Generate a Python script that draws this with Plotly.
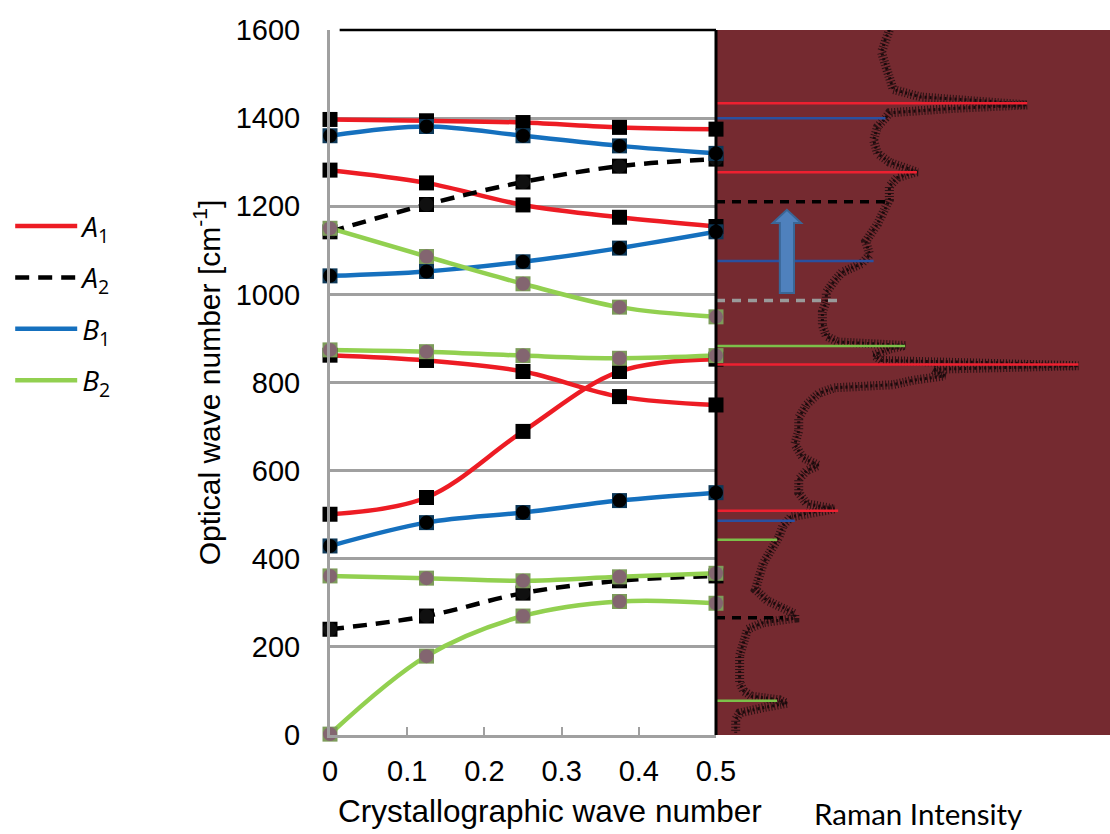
import plotly.graph_objects as go

# ---------------- data ----------------
q = [0, 0.125, 0.25, 0.375, 0.5]

a1_1 = [1397, 1394, 1390, 1379, 1375]
a1_2 = [1282, 1253, 1203, 1175, 1154]
a1_3 = [862, 850, 825, 768, 749]
a1_4 = [501, 539, 689, 825, 853]

a2_1 = [1142, 1204, 1255, 1291, 1307]
a2_2 = [240, 270, 322, 350, 361]

b1_1 = [1360, 1381, 1360, 1337, 1320]
b1_2 = [1042, 1052, 1074, 1105, 1142]
b1_3 = [429, 482, 505, 532, 550]

b2_1 = [1150, 1086, 1024, 971, 949]
b2_2 = [874, 870, 861, 855, 861]
b2_3 = [361, 356, 350, 359, 367]
b2_4 = [2, 179, 270, 303, 299]

raman_wn = [1600, 1580, 1550, 1520, 1490, 1465, 1448, 1438, 1430, 1422, 1412, 1400,
            1380, 1350, 1320, 1300, 1288, 1278, 1265, 1245, 1215, 1195, 1160, 1120,
            1090, 1070, 1050, 1030, 1005, 985, 960, 930, 905, 892, 884, 876, 862, 850,
            843, 838, 830, 815, 805, 795, 788, 775, 750, 720, 690, 660, 630, 612, 600,
            580, 550, 525, 513, 505, 495, 475, 450, 420, 390, 360, 330, 305, 290, 275,
            265, 255, 240, 210, 180, 150, 120, 100, 88, 80, 72, 62, 50, 35, 20, 5]
raman_int = [44, 43, 42, 43, 44, 45, 52, 70, 79, 60, 44, 43,
             41, 40, 41, 44, 48, 51, 46, 44, 44, 43, 41, 38,
             39, 37, 32, 30, 28, 28, 27, 27, 28, 31, 48, 44, 40, 42,
             80, 92, 55, 58, 50, 45, 30, 26, 23, 21, 21, 20, 22, 26, 23,
             21, 21, 23, 30, 24, 19, 17, 16, 14, 12, 11, 10, 13, 17, 20,
             20, 12, 8, 7, 6, 6, 6, 7, 9, 16, 18, 12, 6, 5, 5, 5]

# Raman peak assignments (wave number, bar length in intensity units, mode)
peak_wn = [1434, 1400, 1277, 1210, 1076, 986, 883, 841, 509, 486, 443, 266, 78]
peak_len = [79, 43, 51, 43, 40, 31, 48, 92, 31, 20, 15.5, 17, 15.5]
peak_mode = ["A1", "B1", "A1", "A2", "B1", "X", "B2", "A1", "A1", "B1", "B2", "A2", "B2"]

arrow_x = 18.0
arrow_from = 1003
arrow_head = 1162
arrow_to = 1192

legend_names = ["<i>A</i><sub>1</sub>", "<i>A</i><sub>2</sub>",
                "<i>B</i><sub>1</sub>", "<i>B</i><sub>2</sub>"]

# ---------------- styles ----------------
RED = "#ed1c24"
BLUE = "#1570be"
GREEN = "#92d050"
BLACK = "#000000"
GREY = "#a0a0a0"
PANEL = "#752a30"
FONT = "Liberation Sans, Arial, sans-serif"

line_style = {
    "A1": dict(color=RED, width=4.5),
    "A2": dict(color=BLACK, width=4.5, dash="14px,9px"),
    "B1": dict(color=BLUE, width=4.5),
    "B2": dict(color=GREEN, width=4.5),
}
peak_style = {
    "A1": dict(color="#ee2030", width=2.5),
    "A2": dict(color="#000000", width=3.5, dash="9px,7px"),
    "B1": dict(color="#2a50a0", width=2.5),
    "B2": dict(color="#7cc04a", width=2.5),
    "X": dict(color="#9a9a9a", width=3.5, dash="9px,7px"),
}

series = [
    ("A1", a1_1), ("A1", a1_2), ("A1", a1_3), ("A1", a1_4),
    ("A2", a2_1), ("A2", a2_2),
    ("B1", b1_1), ("B1", b1_2), ("B1", b1_3),
    ("B2", b2_1), ("B2", b2_2), ("B2", b2_3), ("B2", b2_4),
]
marker_square = {"A1": "#000000", "A2": "#000000", "B1": "#0d3858", "B2": "#7d9c5a"}
marker_circle = {"A1": None, "A2": "#101010", "B1": "#000000", "B2": "#836570"}

fig = go.Figure()

seen = set()
order = ["A1", "A2", "B1", "B2"]
for mode, vals in series:
    show = mode not in seen
    seen.add(mode)
    fig.add_trace(go.Scatter(
        x=q, y=vals, mode="lines", line=dict(shape="spline", smoothing=1, **line_style[mode]),
        name=legend_names[order.index(mode)], legendgroup=mode, showlegend=show,
        legendrank=order.index(mode), xaxis="x", yaxis="y", hoverinfo="skip"))

for mode, vals in series:
    fig.add_trace(go.Scatter(
        x=q, y=vals, mode="markers", showlegend=False, cliponaxis=False,
        marker=dict(symbol="square", size=15, color=marker_square[mode], line=dict(width=0)),
        xaxis="x", yaxis="y"))
    if marker_circle[mode]:
        fig.add_trace(go.Scatter(
            x=q, y=vals, mode="markers", showlegend=False, cliponaxis=False,
            marker=dict(symbol="circle", size=14, color=marker_circle[mode], line=dict(width=0)),
            xaxis="x", yaxis="y"))

# Raman spectrum (speckled band)
fig.add_trace(go.Scatter(
    x=raman_int, y=raman_wn, mode="lines", showlegend=False,
    line=dict(color="#2a1214", width=9, dash="1px,2px"),
    xaxis="x2", yaxis="y2"))
fig.add_trace(go.Scatter(
    x=raman_int, y=raman_wn, mode="lines", showlegend=False,
    line=dict(color="#1a0a0c", width=3, dash="2px,3px"),
    xaxis="x2", yaxis="y2"))

for wn, ln, md in zip(peak_wn, peak_len, peak_mode):
    fig.add_trace(go.Scatter(
        x=[0, ln], y=[wn, wn], mode="lines", showlegend=False,
        line=peak_style[md], xaxis="x2", yaxis="y2"))

sw = 1.8
hw = 3.6
path = (f"M {arrow_x - sw},{arrow_from} L {arrow_x + sw},{arrow_from} "
        f"L {arrow_x + sw},{arrow_head} L {arrow_x + hw},{arrow_head} "
        f"L {arrow_x},{arrow_to} L {arrow_x - hw},{arrow_head} "
        f"L {arrow_x - sw},{arrow_head} Z")

split = 386 / 780

fig.update_layout(
    width=1110, height=834,
    margin=dict(l=330, r=0, t=30, b=99, autoexpand=False),
    paper_bgcolor="white", plot_bgcolor="white",
    font=dict(family=FONT, size=29, color="black"),
    showlegend=True,
    legend=dict(x=-0.41, xanchor="left", y=0.757, yanchor="top",
                font=dict(size=28, family="Open Sans, sans-serif"), tracegroupgap=12,
                itemwidth=62,
                bgcolor="rgba(0,0,0,0)", traceorder="grouped"),
    xaxis=dict(domain=[0, split], range=[0, 0.5], showgrid=False, zeroline=False,
               tickvals=[0, 0.1, 0.2, 0.3, 0.4, 0.5],
               ticktext=["0", "0.1", "0.2", "0.3", "0.4", "0.5"],
               ticks="inside", ticklen=8, tickwidth=2, tickcolor=GREY,
               showline=True, linecolor=GREY, linewidth=3,
               ticklabelstandoff=8, automargin=False,
               tickfont=dict(size=29)),
    yaxis=dict(range=[0, 1600], dtick=200, showgrid=True, gridcolor=GREY, gridwidth=2.5,
               zeroline=False, showline=True, linecolor=GREY, linewidth=3,
               ticks="", ticklabelstandoff=21, tickfont=dict(size=29), automargin=False,
               title=dict(text="Optical wave number [cm<sup>-1</sup>]", font=dict(size=30),
                          standoff=7)),
    xaxis2=dict(domain=[split, 1], range=[0, 100], showgrid=False, zeroline=False,
                showticklabels=False, ticks="", showline=False, anchor="y2", automargin=False),
    yaxis2=dict(range=[0, 1600], showgrid=False, zeroline=False, showticklabels=False,
                ticks="", showline=False, anchor="x2", matches="y", automargin=False),
    annotations=[
        dict(text="Crystallographic wave number", xref="paper", yref="paper",
             x=(550 - 330) / 780, y=(735 - 811) / 705, xanchor="center", yanchor="middle",
             showarrow=False, font=dict(size=31.5, family=FONT)),
        dict(text="Raman Intensity", xref="paper", yref="paper",
             x=(918 - 330) / 780, y=(735 - 813) / 705, xanchor="center", yanchor="middle",
             showarrow=False, font=dict(size=29.5, family="Lato, Open Sans, sans-serif")),
    ],
    shapes=[
        dict(type="rect", xref="x2 domain", yref="y2 domain", x0=0, x1=1, y0=0, y1=1,
             fillcolor=PANEL, line=dict(width=0), layer="below"),
        dict(type="path", xref="x2", yref="y2", path=path, fillcolor="#4f81bd",
             line=dict(color="#3a6696", width=2), layer="above"),
        dict(type="line", xref="x domain", yref="y domain", x0=0.025, x1=1, y0=1, y1=1,
             line=dict(color="black", width=2.5), layer="above"),
        dict(type="line", xref="x domain", yref="y domain", x0=1, x1=1, y0=0, y1=1,
             line=dict(color="black", width=3), layer="above"),
    ],
)

fig.write_html("out.html")
